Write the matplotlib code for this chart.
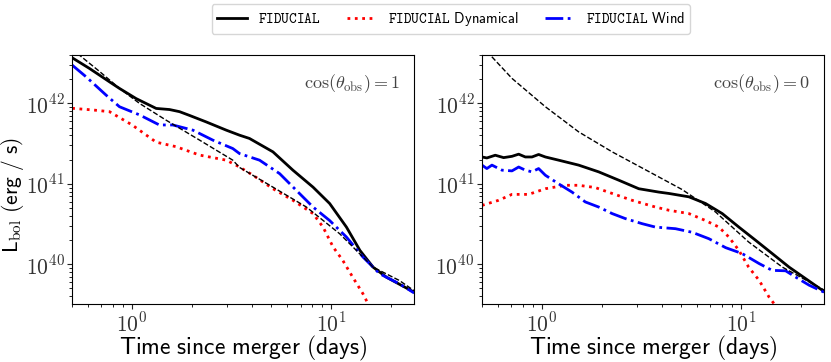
import numpy as np
import matplotlib
matplotlib.use("Agg")
import matplotlib.pyplot as plt
from matplotlib.ticker import FuncFormatter

plt.rcParams['mathtext.fontset'] = 'cm'

# left panel: cos(theta_obs) = 1
t_fid_1 = [0.5, 0.61, 0.769, 0.863, 1.047, 1.32, 1.54, 1.73, 1.94, 2.35, 2.97, 3.46, 3.88, 5.09, 6.41,
           8.09, 9.8, 11.9, 13.9, 16.2, 18.9, 26]
L_fid_1 = [3.7e42, 2.73e42, 1.86e42, 1.54e42, 1.15e42, 8.67e41, 8.4e41, 7.9e41, 7.1e41, 5.9e41, 4.65e41,
           4.03e41, 3.67e41, 2.5e41, 1.48e41, 9.1e40, 5.7e40, 2.9e40, 1.49e40, 9.2e39, 6.9e39, 4.5e39]

t_dyn_1 = [0.5, 0.634, 0.77, 1.0, 1.32, 1.66, 2.18, 2.97, 3.46, 4.04, 5.09, 6.41, 8.09, 9.08, 10.2, 11.4,
           12.8, 14.4, 15.3, 15.8]
L_dyn_1 = [8.7e41, 8.3e41, 7.9e41, 5.4e41, 3.3e41, 2.9e41, 2.28e41, 1.97e41, 1.62e41, 1.28e41, 8.7e40,
           6.25e40, 4.27e40, 2.9e40, 1.64e40, 1.12e40, 6.9e39, 4.3e39, 3.2e39, 2.6e39]

t_wind_1 = [0.5, 0.588, 0.74, 0.864, 1.09, 1.37, 1.6, 2.02, 2.54, 3.2, 3.46, 4.36, 5.5, 6.67, 8.09, 9.8,
            11.9, 14.4, 17.5, 22.0, 26]
L_wind_1 = [3.0e42, 2.14e42, 1.27e42, 9.1e41, 7.2e41, 5.4e41, 5.4e41, 4.65e41, 3.5e41, 2.75e41, 2.38e41,
            1.97e41, 1.34e41, 8.3e40, 5.15e40, 3.5e40, 2.18e40, 1.23e40, 7.6e39, 5.7e39, 4.4e39]

t_ref_1 = [0.5, 0.543, 0.686, 0.864, 1.09, 1.48, 2.18, 3.2, 3.46, 5.09, 7.49, 11.0, 16.2, 21.9, 26]
L_ref_1 = [4.8e42, 4.0e42, 2.5e42, 1.54e42, 1.0e42, 6.2e41, 3.5e41, 1.97e41, 1.6e41, 9.1e40, 5.15e40,
           2.4e40, 9.2e39, 6.3e39, 4.7e39]

# right panel: cos(theta_obs) = 0
t_fid_0 = [0.5, 0.529, 0.583, 0.642, 0.707, 0.764, 0.825, 0.891, 0.962, 1.04, 1.213, 1.528, 1.926, 2.43,
           3.06, 3.86, 4.33, 5.46, 6.62, 8.03, 9.73, 11.8, 14.3, 17.4, 21.1, 26]
L_fid_0 = [2.16e41, 2.1e41, 2.27e41, 2.12e41, 2.2e41, 2.34e41, 2.16e41, 2.16e41, 2.32e41, 2.16e41,
           1.97e41, 1.71e41, 1.41e41, 1.11e41, 8.7e40, 7.9e40, 7.6e40, 6.9e40, 5.7e40, 4.27e40, 2.9e40,
           1.99e40, 1.36e40, 9.2e39, 6.6e39, 4.6e39]

t_dyn_0 = [0.5, 0.606, 0.707, 0.857, 1.04, 1.31, 1.528, 1.85, 2.25, 2.83, 3.71, 4.33, 5.46, 6.62, 7.73,
           8.67, 9.73, 10.9, 12.3, 13.8, 14.8, 15.4]
L_dyn_0 = [5.4e40, 6.25e40, 7.4e40, 7.4e40, 8.7e40, 9.6e40, 9.6e40, 9.0e40, 7.6e40, 6.25e40, 5.15e40,
           4.7e40, 4.27e40, 3.5e40, 2.9e40, 2.18e40, 1.49e40, 9.2e39, 6.3e39, 3.9e39, 3.1e39, 2.6e39]

t_wind_0 = [0.5, 0.529, 0.561, 0.63, 0.707, 0.764, 0.825, 0.891, 0.962, 1.04, 1.213, 1.415, 1.65, 1.926,
            2.25, 2.62, 3.18, 3.71, 4.68, 5.67, 6.88, 8.35, 10.1, 12.3, 14.3, 16.7, 18.8, 21.9, 26]
L_wind_0 = [1.71e41, 1.55e41, 1.71e41, 1.48e41, 1.45e41, 1.62e41, 1.48e41, 1.41e41, 1.55e41, 1.28e41,
            1.0e41, 7.9e40, 5.96e40, 5.15e40, 4.27e40, 3.7e40, 3.2e40, 2.9e40, 2.77e40, 2.5e40, 2.08e40,
            1.61e40, 1.36e40, 1.02e40, 8.4e39, 8.3e39, 6.9e39, 5.5e39, 4.5e39]

t_ref_0 = [0.5, 0.55, 0.707, 1.04, 1.528, 2.25, 3.44, 5.05, 7.43, 10.9, 16.1, 26]
L_ref_0 = [5.2e42, 4.0e42, 2.05e42, 9.1e41, 4.43e41, 2.5e41, 1.42e41, 8.5e40, 4.47e40, 1.89e40, 9.2e39,
           4.8e39]

panels = [
    (t_fid_1, L_fid_1, t_dyn_1, L_dyn_1, t_wind_1, L_wind_1, t_ref_1, L_ref_1, r'$\cos(\theta_{\rm obs}) = 1$'),
    (t_fid_0, L_fid_0, t_dyn_0, L_dyn_0, t_wind_0, L_wind_0, t_ref_0, L_ref_0, r'$\cos(\theta_{\rm obs}) = 0$'),
]

fmt = FuncFormatter(lambda v, pos: r'$10^{%d}$' % round(np.log10(v)))

fig = plt.figure(figsize=(8.31, 3.62), dpi=100)
ax1 = fig.add_axes([0.0868, 0.160, 0.4115, 0.688])
ax2 = fig.add_axes([0.580, 0.160, 0.4115, 0.688])

for ax, (tf, Lf, td, Ld, tw, Lw, tr, Lr, lab) in zip([ax1, ax2], panels):
    ax.plot(tf, Lf, color='k', lw=2, label=r'$\mathtt{FIDUCIAL}$')
    ax.plot(td, Ld, color='red', lw=2, ls=':', label=r'$\mathtt{FIDUCIAL}$ $\mathsf{Dynamical}$')
    ax.plot(tw, Lw, color='blue', lw=2, ls='-.', label=r'$\mathtt{FIDUCIAL}$ $\mathsf{Wind}$')
    ax.plot(tr, Lr, color='k', lw=1, ls='--')
    ax.set_xscale('log')
    ax.set_yscale('log')
    ax.set_xlim(0.5, 26)
    ax.set_ylim(3.2e39, 4e42)
    ax.xaxis.set_major_formatter(fmt)
    ax.yaxis.set_major_formatter(fmt)
    ax.tick_params(labelsize=15.5, colors='#222222', labelcolor='#333333')
    ax.tick_params(axis='x', pad=2)
    ax.tick_params(axis='y', pad=2)
    ax.set_xlabel(r'$\mathsf{Time\ since\ merger\ (days)}$', fontsize=17)
    ax.xaxis.set_label_coords(0.5, -0.12)
    ax.text(0.96, 0.93, lab, transform=ax.transAxes, ha='right', va='top', fontsize=13, color='#444444')

ax1.set_ylabel(r'$\mathsf{L}_{\rm bol}\ \mathsf{(erg\ /\ s)}$', fontsize=15.5)
ax1.yaxis.set_label_coords(-0.135, 0.44)

handles, labels = ax1.get_legend_handles_labels()
fig.legend(handles, labels, loc='upper center', bbox_to_anchor=(0.5427, 1.008), ncol=3, fontsize=10.5,
           handlelength=2.0, handletextpad=0.8, columnspacing=1.8)

fig.savefig('out.png', dpi=100)
